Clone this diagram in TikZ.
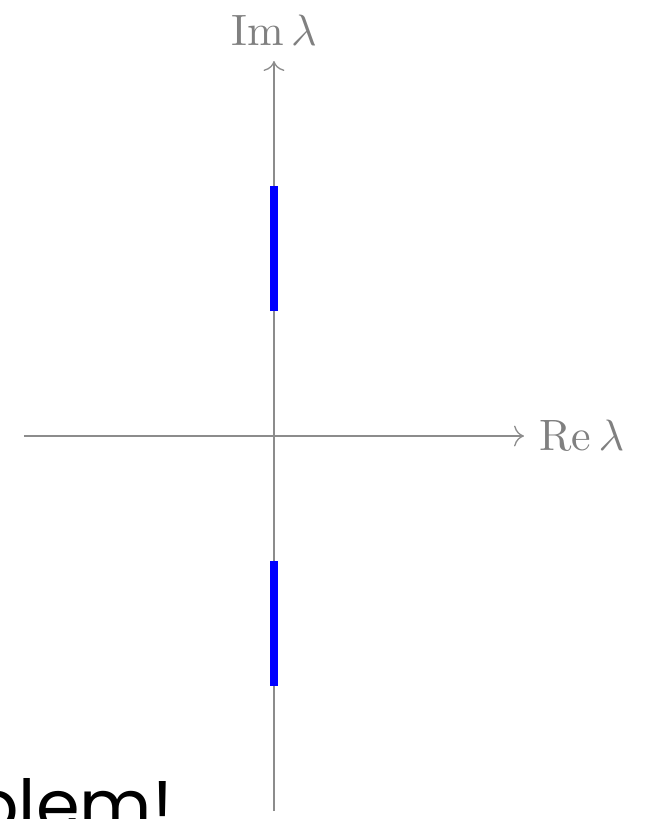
\documentclass[tikz,border=0pt]{standalone}
\usepackage{amsmath,amssymb}
\usepackage{xcolor}
\usepackage{fontspec}
\newfontfamily\slidefont{Poppins}
\usepackage{tikz}
\usetikzlibrary{positioning,arrows.meta}

\begin{document}
\begin{tikzpicture}[
    axis/.style={gray!90, line width=0.3pt, ->},
    axislabel/.style={text=gray},
    cut/.style={blue, line width=1.6pt},
]
\useasboundingbox (-2.192,-3.064) rectangle (3.104,3.488);

% Axes
\coordinate (xmin) at (-2,0);
\coordinate (xmax) at (2,0);
\coordinate (ymin) at (0,-3);
\coordinate (ymax) at (0,3);
\draw[axis] (xmin) -- (xmax);
\draw[axis] (ymin) -- (ymax);
\node (relabel) [axislabel, right=0pt of xmax] {$\mathrm{Re}\,\lambda$};
\node (imlabel) [axislabel, above=0pt of ymax] {$\mathrm{Im}\,\lambda$};

% Cuts on the imaginary axis
\coordinate (up1) at (0,1);
\coordinate (up2) at (0,2);
\coordinate (lo1) at (0,-1);
\coordinate (lo2) at (0,-2);
\draw[cut] (up1) -- (up2);
\draw[cut] (lo1) -- (lo2);

% Slide text
\node (warn) [anchor=base east, inner sep=0pt, font=\slidefont\fontsize{16}{18}\selectfont] at (-0.80,-3.155) {blem!};

\end{tikzpicture}
\end{document}
